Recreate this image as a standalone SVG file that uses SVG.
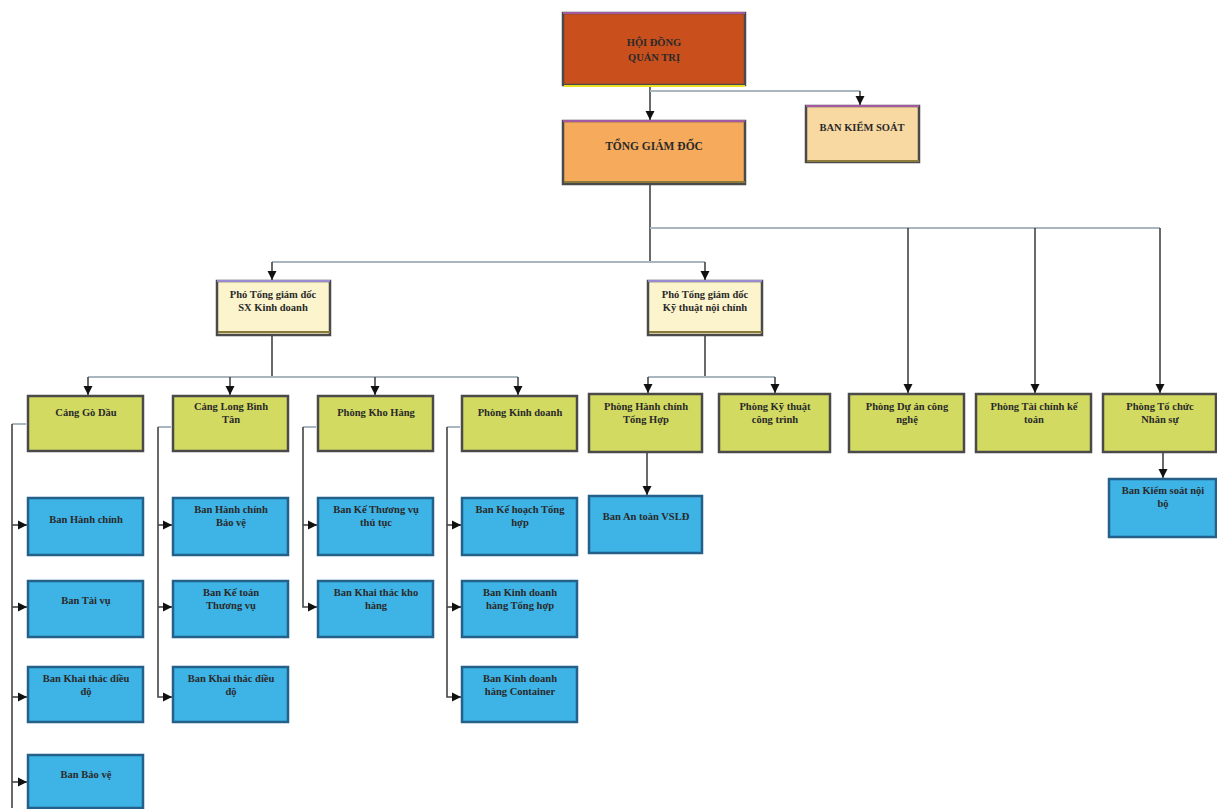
<svg xmlns="http://www.w3.org/2000/svg" width="1217" height="809" viewBox="0 0 1217 809">
<defs>
<marker id="arr" viewBox="0 0 10 10" refX="10" refY="5" markerWidth="9" markerHeight="10" markerUnits="userSpaceOnUse" orient="auto">
<path d="M0,0 L10,5 L0,10 z" fill="#111"/>
</marker>
</defs>
<style>
.box{stroke:#4a4a4a;stroke-width:2.5}
.red{fill:#c9501c}
.org{fill:#f6aa5c}
.tan{fill:#f9d9a2}
.crm{fill:#fcf4cc}
.grn{fill:#d3da62}
.blu{fill:#3db3e6;stroke:#23618a}
.top{stroke:#a35aa0;stroke-width:2}
.bot{stroke:#8b7a3a;stroke-width:2}
.bbot{stroke:#1d4f78;stroke-width:2}
text{font-family:"Liberation Serif","Times New Roman",serif;font-weight:bold;font-size:10.5px;fill:#2a2a2a;text-anchor:middle}
.big{font-size:11.5px}
.v{fill:none;stroke:#444;stroke-width:1.6}
.h{fill:none;stroke:#a9b6be;stroke-width:2}
</style>
<rect width="1217" height="809" fill="#ffffff"/>

<g id="connectors">
<path class="v" d="M650,85 V120" marker-end="url(#arr)"/>
<path class="h" d="M650,91 H860"/>
<path class="v" d="M860,91 V105" marker-end="url(#arr)"/>
<path class="v" d="M650,185 V262"/>
<path class="h" d="M650,228 H1160"/>
<path class="v" d="M908,228 V393" marker-end="url(#arr)"/>
<path class="v" d="M1035,228 V393" marker-end="url(#arr)"/>
<path class="v" d="M1160,228 V393" marker-end="url(#arr)"/>
<path class="h" d="M272,262 H705"/>
<path class="v" d="M272,262 V280" marker-end="url(#arr)"/>
<path class="v" d="M705,262 V280" marker-end="url(#arr)"/>
<path class="v" d="M272,335 V377"/>
<path class="h" d="M88,377 H518"/>
<path class="v" d="M88,377 V395" marker-end="url(#arr)"/>
<path class="v" d="M230,377 V395" marker-end="url(#arr)"/>
<path class="v" d="M375,377 V395" marker-end="url(#arr)"/>
<path class="v" d="M518,377 V395" marker-end="url(#arr)"/>
<path class="v" d="M705,335 V377"/>
<path class="h" d="M648,377 H775"/>
<path class="v" d="M648,377 V393" marker-end="url(#arr)"/>
<path class="v" d="M775,377 V393" marker-end="url(#arr)"/>
<path class="v" d="M647,453 V495" marker-end="url(#arr)"/>
<path class="v" d="M1163,453 V478" marker-end="url(#arr)"/>
<!-- column 1 -->
<path class="h" d="M12,424 H26"/>
<path class="v" d="M12,424 V808"/>
<path class="v" d="M12,525 H27" marker-end="url(#arr)"/>
<path class="v" d="M12,607 H27" marker-end="url(#arr)"/>
<path class="v" d="M12,697 H27" marker-end="url(#arr)"/>
<path class="v" d="M12,782 H27" marker-end="url(#arr)"/>
<!-- column 2 -->
<path class="h" d="M158,427 H171"/>
<path class="v" d="M158,427 V697 H172" marker-end="url(#arr)"/>
<path class="v" d="M158,525 H172" marker-end="url(#arr)"/>
<path class="v" d="M158,607 H172" marker-end="url(#arr)"/>
<!-- column 3 -->
<path class="h" d="M303,427 H316"/>
<path class="v" d="M303,427 V607 H317" marker-end="url(#arr)"/>
<path class="v" d="M303,525 H317" marker-end="url(#arr)"/>
<!-- column 4 -->
<path class="h" d="M447,427 H460"/>
<path class="v" d="M447,427 V697 H461" marker-end="url(#arr)"/>
<path class="v" d="M447,525 H461" marker-end="url(#arr)"/>
<path class="v" d="M447,607 H461" marker-end="url(#arr)"/>
</g>

<g id="hdqt">
<rect class="box red" x="563" y="13" width="182" height="72"/>
<line class="top" x1="563" y1="13" x2="745" y2="13"/>
<line x1="564" y1="86" x2="745" y2="86" stroke="#e8e020" stroke-width="2"/>
<text x="654" y="46">HỘI ĐỒNG</text>
<text x="654" y="61">QUẢN TRỊ</text>
</g>
<g id="tgd">
<rect class="box org" x="563" y="121" width="182" height="63"/>
<line class="top" x1="563" y1="121" x2="745" y2="121"/>
<line class="bot" x1="564" y1="182" x2="745" y2="182" stroke="#c96a2a"/>
<text class="big" x="654" y="150">TỔNG GIÁM ĐỐC</text>
</g>
<g id="bks">
<rect class="box tan" x="806" y="106" width="113" height="56"/>
<line class="top" x1="806" y1="106" x2="919" y2="106"/>
<line class="bot" x1="807" y1="161" x2="919" y2="161"/>
<text x="862" y="131">BAN KIỂM SOÁT</text>
</g>

<g id="pho-sxkd">
<rect class="box crm" x="217" y="281" width="113" height="54" stroke="#777"/>
<line x1="217" y1="281" x2="330" y2="281" stroke="#9a8ad0" stroke-width="2"/>
<line class="bot" x1="218" y1="332" x2="330" y2="332"/>
<text x="273" y="298">Phó Tổng giám đốc</text>
<text x="273" y="311">SX Kinh doanh</text>
</g>
<g id="pho-ktnc">
<rect class="box crm" x="648" y="281" width="114" height="54" stroke="#777"/>
<line x1="648" y1="281" x2="762" y2="281" stroke="#9a8ad0" stroke-width="2"/>
<line class="bot" x1="649" y1="332" x2="762" y2="332"/>
<text x="705" y="298">Phó Tổng giám đốc</text>
<text x="705" y="311">Kỹ thuật nội chính</text>
</g>

<g id="cang-go-dau">
<rect class="box grn" x="28" y="396" width="115" height="55"/>
<text x="86" y="416">Cảng Gò Dầu</text>
</g>
<g id="cang-lbt">
<rect class="box grn" x="173" y="396" width="115" height="55"/>
<text x="231" y="410">Cảng Long Bình</text>
<text x="231" y="423">Tân</text>
</g>
<g id="phong-kho-hang">
<rect class="box grn" x="318" y="396" width="115" height="55"/>
<text x="376" y="416">Phòng Kho Hàng</text>
</g>
<g id="phong-kinh-doanh">
<rect class="box grn" x="462" y="396" width="115" height="55"/>
<text x="520" y="416">Phòng Kinh doanh</text>
</g>
<g id="phong-hcth">
<rect class="box grn" x="589" y="394" width="113" height="58"/>
<text x="646" y="410">Phòng Hành chính</text>
<text x="646" y="423">Tổng Hợp</text>
</g>
<g id="phong-ktct">
<rect class="box grn" x="719" y="394" width="111" height="58"/>
<text x="775" y="410">Phòng Kỹ thuật</text>
<text x="775" y="423">công trình</text>
</g>
<g id="phong-dacn">
<rect class="box grn" x="849" y="394" width="115" height="58"/>
<text x="907" y="410">Phòng Dự án công</text>
<text x="907" y="423">nghệ</text>
</g>
<g id="phong-tckt">
<rect class="box grn" x="976" y="394" width="115" height="58"/>
<text x="1034" y="410">Phòng Tài chính kế</text>
<text x="1034" y="423">toán</text>
</g>
<g id="phong-tcns">
<rect class="box grn" x="1103" y="394" width="113" height="58"/>
<text x="1160" y="410">Phòng Tổ chức</text>
<text x="1160" y="423">Nhân sự</text>
</g>

<g id="ban-hanh-chinh">
<rect class="box blu" x="28" y="498" width="115" height="57"/>
<text x="86" y="523">Ban Hành chính</text>
</g>
<g id="ban-tai-vu">
<rect class="box blu" x="28" y="581" width="115" height="56"/>
<text x="86" y="604">Ban Tài vụ</text>
</g>
<g id="ban-ktdd-1">
<rect class="box blu" x="28" y="667" width="115" height="55"/>
<text x="86" y="682">Ban Khai thác điều</text>
<text x="86" y="695">độ</text>
</g>
<g id="ban-bao-ve">
<rect class="box blu" x="28" y="755" width="115" height="53"/>
<text x="86" y="778">Ban Bảo vệ</text>
</g>

<g id="ban-hcbv">
<rect class="box blu" x="173" y="498" width="115" height="57"/>
<text x="231" y="513">Ban Hành chính</text>
<text x="231" y="526">Bảo vệ</text>
</g>
<g id="ban-kttv">
<rect class="box blu" x="173" y="581" width="115" height="56"/>
<text x="231" y="596">Ban Kế toán</text>
<text x="231" y="609">Thương vụ</text>
</g>
<g id="ban-ktdd-2">
<rect class="box blu" x="173" y="667" width="115" height="55"/>
<text x="231" y="682">Ban Khai thác điều</text>
<text x="231" y="695">độ</text>
</g>

<g id="ban-ke-tvtt">
<rect class="box blu" x="318" y="498" width="115" height="57"/>
<text x="376" y="513">Ban Kế Thương vụ</text>
<text x="376" y="526">thủ tục</text>
</g>
<g id="ban-kt-kho">
<rect class="box blu" x="318" y="581" width="115" height="56"/>
<text x="376" y="596">Ban Khai thác kho</text>
<text x="376" y="609">hàng</text>
</g>

<g id="ban-khth">
<rect class="box blu" x="462" y="498" width="115" height="57"/>
<text x="520" y="513">Ban Kế hoạch Tổng</text>
<text x="520" y="526">hợp</text>
</g>
<g id="ban-kd-th">
<rect class="box blu" x="462" y="581" width="115" height="56"/>
<text x="520" y="596">Ban Kinh doanh</text>
<text x="520" y="609">hàng Tổng hợp</text>
</g>
<g id="ban-kd-cont">
<rect class="box blu" x="462" y="667" width="115" height="55"/>
<text x="520" y="682">Ban Kinh doanh</text>
<text x="520" y="695">hàng Container</text>
</g>

<g id="ban-at-vsld">
<rect class="box blu" x="589" y="496" width="113" height="57"/>
<text x="646" y="520">Ban An toàn VSLĐ</text>
</g>
<g id="ban-ksnb">
<rect class="box blu" x="1109" y="479" width="107" height="58"/>
<text x="1163" y="494">Ban Kiểm soát nội</text>
<text x="1163" y="507">bộ</text>
</g>
</svg>
